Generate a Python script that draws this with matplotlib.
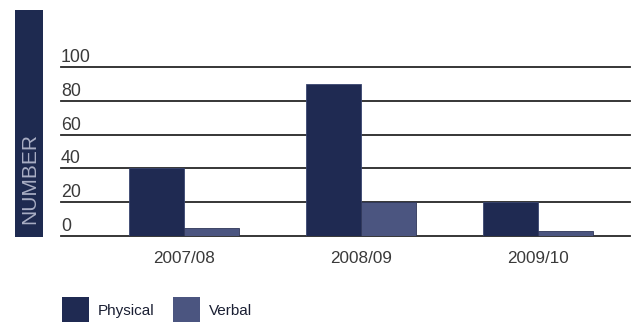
import numpy as np
import matplotlib
matplotlib.use("Agg")
import matplotlib.pyplot as plt
from matplotlib.patches import Rectangle

# data
years = ["2007/08", "2008/09", "2009/10"]
physical = [40, 90, 20]
verbal = [5, 20, 3]
series_names = ["Physical", "Verbal"]
yticks = [0, 20, 40, 60, 80, 100]

c_phys = "#1f2a52"
c_verb = "#4b5580"
c_grid = "#262626"
c_text = "#3a3a3a"

plt.rcParams["font.family"] = ["Liberation Sans", "DejaVu Sans"]

W, H = 636, 322
fig = plt.figure(figsize=(W / 100, H / 100), dpi=100)
fig.patch.set_facecolor("white")

# axes placed in pixel terms
left, right, bottom, top = 61, 630, 236, 67
ax = fig.add_axes([left / W, (H - bottom) / H, (right - left) / W, (bottom - top) / H])
ax.set_facecolor("none")

x = np.arange(len(years))
bw = 0.31
ax.bar(x - bw / 2, physical, bw, color=c_phys, edgecolor="#3a4670", linewidth=0.6, zorder=3)
ax.bar(x + bw / 2, verbal, bw, color=c_verb, edgecolor="#2e3658", linewidth=0.6, zorder=3)

ax.set_xlim(-0.695, 2.52)
ax.set_ylim(0, 100)

for v in yticks:
    ax.axhline(v, color=c_grid, lw=1.3, zorder=2, clip_on=False)
    ax.text(0.0, v + 0.6, str(v), transform=ax.get_yaxis_transform(),
            ha="left", va="bottom", fontsize=12.8, color=c_text, zorder=4)

for s in ax.spines.values():
    s.set_visible(False)
ax.set_yticks([])
ax.set_xticks(x)
ax.set_xticklabels(years, fontsize=12.3, color=c_text)
ax.tick_params(axis="x", length=0, pad=11)

# dark label box on the left
fig.patches.append(Rectangle((15 / W, (H - 237) / H), 28 / W, 227 / H,
                             transform=fig.transFigure, facecolor="#1e2a50",
                             edgecolor="none"))
fig.text(29.5 / W, (H - 179) / H, "NUMBER", rotation=90, ha="center", va="center",
         fontsize=15, color="#a9aec4")

# legend squares
lx = [62, 173]
for name, col, x0 in zip(series_names, [c_phys, c_verb], lx):
    fig.patches.append(Rectangle((x0 / W, (H - 324) / H), 27 / W, 27 / H,
                                 transform=fig.transFigure, facecolor=col,
                                 edgecolor="none"))
    fig.text((x0 + 36) / W, (H - 311) / H, name, ha="left", va="center",
             fontsize=11, color="#1a1f33",
             family=["Liberation Sans Narrow", "Liberation Sans", "DejaVu Sans"])

fig.savefig("out.png", dpi=100)
